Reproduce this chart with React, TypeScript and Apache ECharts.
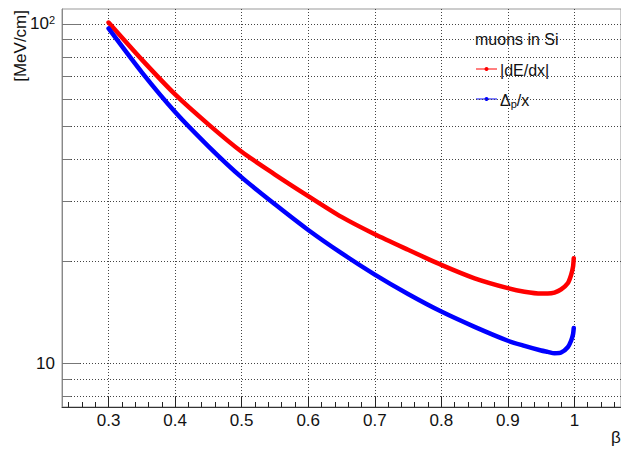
import React, { useEffect, useRef } from 'react';
import * as echarts from 'echarts';

// beta values of the sampled points
const beta = [0.3, 0.35, 0.4, 0.45, 0.5, 0.55, 0.6, 0.65, 0.7, 0.75, 0.8, 0.85, 0.9, 0.925, 0.95, 0.96, 0.97, 0.98, 0.99, 0.995, 0.998, 0.999];
// |dE/dx| in MeV/cm (red)
const dEdx = [101, 78.5, 62, 50.6, 42, 36, 31.1, 27.0, 24.0, 21.6, 19.5, 17.8, 16.65, 16.25, 16.05, 16.05, 16.15, 16.5, 17.2, 18.2, 19.3, 20.4];
// most probable loss Delta_p/x in MeV/cm (blue)
const deltaP = [97, 72, 55, 43.6, 35.3, 29.4, 24.7, 21.1, 18.25, 16.0, 14.2, 12.8, 11.65, 11.25, 10.9, 10.8, 10.7, 10.75, 11.15, 11.65, 12.2, 12.7];

const xMajorTicks = [0.3, 0.4, 0.5, 0.6, 0.7, 0.8, 0.9, 1.0];
const xMinorTicks = Array.from({ length: 42 }, (_, i) => Math.round((0.24 + i * 0.02) * 100) / 100);
const yMajorTicks = [10, 100];
const yMinorTicks = [8, 9, 20, 30, 40, 50, 60, 70, 80, 90];

const FONT = 'Liberation Sans, Arial, Helvetica, sans-serif';

export default function App() {
  const ref = useRef<HTMLDivElement>(null);
  useEffect(() => {
    const chart = echarts.init(ref.current!, null, { renderer: 'svg' });
    const grid = { left: 62, right: -1, top: 9, bottom: 43, show: true, borderColor: '#999', borderWidth: 1 };
    const gridLine = { show: true, lineStyle: { color: '#444', width: 1, type: [1, 2] } };
    chart.setOption({
      animation: false,
      backgroundColor: '#fff',
      grid,
      xAxis: [
        {
          type: 'value', min: 0.23, max: 1.07,
          axisLine: { show: true, lineStyle: { color: '#333', width: 1 } },
          axisTick: { show: true, inside: true, length: 10, customValues: xMajorTicks, lineStyle: { color: '#222' } },
          axisLabel: { show: true, customValues: xMajorTicks, fontSize: 17, color: '#111', fontFamily: FONT, margin: 5 },
          splitLine: gridLine,
        },
        {
          type: 'value', min: 0.23, max: 1.07, position: 'bottom',
          axisLine: { show: false },
          axisTick: { show: true, inside: true, length: 5, customValues: xMinorTicks, lineStyle: { color: '#222' } },
          axisLabel: { show: false },
          splitLine: { show: false },
        },
      ],
      yAxis: [
        {
          type: 'log', min: 7.43, max: 110.7, logBase: 10,
          axisLine: { show: true, lineStyle: { color: '#888', width: 1 } },
          axisTick: { show: true, inside: true, length: 18, customValues: yMajorTicks, lineStyle: { color: '#777' } },
          axisLabel: {
            show: true, customValues: yMajorTicks, fontSize: 17, color: '#111', fontFamily: FONT, margin: 7,
            formatter: (v: number) => (v >= 99 ? '10{sup|2}' : '10'),
            rich: { sup: { fontSize: 11, fontFamily: FONT, color: '#111', verticalAlign: 'top', padding: [0, 0, 8, 0] } },
          },
          splitLine: gridLine,
        },
        {
          type: 'log', min: 7.43, max: 110.7, logBase: 10, position: 'left',
          axisLine: { show: false },
          axisTick: { show: true, inside: true, length: 9, customValues: yMinorTicks, lineStyle: { color: '#777' } },
          axisLabel: { show: false },
          splitLine: gridLine,
        },
      ],
      series: [
        {
          name: '|dE/dx|', type: 'line', xAxisIndex: 0, yAxisIndex: 0,
          data: beta.map((b, i) => [b, dEdx[i]]),
          showSymbol: false, smooth: 0.25,
          lineStyle: { color: '#ff0000', width: 4.5, cap: 'round' },
        },
        {
          name: 'Δp/x', type: 'line', xAxisIndex: 0, yAxisIndex: 0,
          data: beta.map((b, i) => [b, deltaP[i]]),
          showSymbol: false, smooth: 0.25,
          lineStyle: { color: '#0000ff', width: 4.5, cap: 'round' },
        },
      ],
      graphic: [
        { type: 'text', x: 20, y: 10, rotation: Math.PI / 2, style: { text: '[MeV/cm]', fontSize: 17, fontFamily: FONT, fill: '#111', align: 'right', verticalAlign: 'middle' } },
        { type: 'text', x: 616, y: 437, style: { text: 'β', fontSize: 17, fontFamily: FONT, fill: '#111', align: 'center', verticalAlign: 'middle' } },
        { type: 'text', x: 475, y: 39, style: { text: 'muons in Si', fontSize: 16, fontFamily: FONT, fill: '#111', align: 'left', verticalAlign: 'middle' } },
        { type: 'line', shape: { x1: 476, y1: 69, x2: 497, y2: 69 }, style: { stroke: '#ff0000', lineWidth: 1 } },
        { type: 'circle', shape: { cx: 486.5, cy: 69, r: 2 }, style: { fill: '#ff0000' } },
        { type: 'text', x: 500, y: 70, style: { text: '|dE/dx|', fontSize: 16, fontFamily: FONT, fill: '#111', align: 'left', verticalAlign: 'middle' } },
        { type: 'line', shape: { x1: 476, y1: 99, x2: 497, y2: 99 }, style: { stroke: '#0000ff', lineWidth: 1 } },
        { type: 'circle', shape: { cx: 486.5, cy: 99, r: 2 }, style: { fill: '#0000ff' } },
        {
          type: 'text', x: 500, y: 100,
          style: {
            text: 'Δ{sub|p}/x', fontSize: 16, fontFamily: FONT, fill: '#111', align: 'left', verticalAlign: 'middle',
            rich: { sub: { fontSize: 11, fontFamily: FONT, fill: '#111', verticalAlign: 'bottom', padding: [8, 0, 0, 0] } },
          },
        },
      ],
    });
    return () => chart.dispose();
  }, []);
  return <div ref={ref} style={{ position: 'fixed', left: 0, top: 0, width: 621, height: 450, background: '#fff' }} />;
}
